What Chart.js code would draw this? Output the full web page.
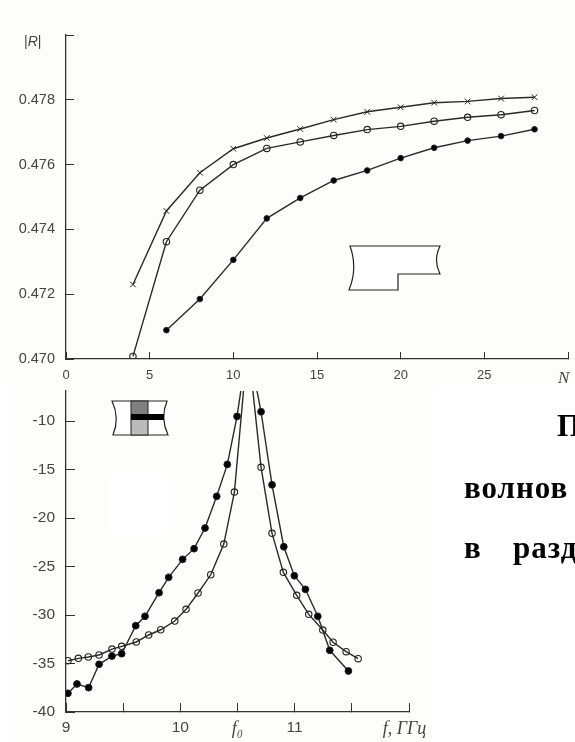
<!DOCTYPE html>
<html>
<head>
<meta charset="utf-8">
<style>
  html,body{margin:0;padding:0;background:#fff;width:575px;height:742px;overflow:hidden}
  .abs{position:absolute}
  #topWrap{left:0;top:0;width:575px;height:385px;background:#fdfdfb}
  #botWrap{left:10px;top:385px;width:424px;height:357px;background:#fdfdfb}
  #patch{left:108px;top:474px;width:62px;height:60px;background:#fff}
  canvas{position:absolute;display:block}
  #rLabel{left:24px;top:33px;font:14px 'Liberation Sans',sans-serif;color:#444}
  .para{position:absolute;font:bold 31px 'Liberation Serif',serif;color:#000;white-space:pre}
</style>
</head>
<body>
<div class="abs" id="topWrap"></div>
<div class="abs" id="botWrap"></div>
<div class="abs" id="patch"></div>
<canvas id="topChart" width="575" height="385" style="left:0;top:0"></canvas>
<canvas id="botChart" width="440" height="357" style="left:0;top:385px"></canvas>
<span class="abs" id="rLabel">|<i>R</i>|</span>
<svg class="abs" style="left:0;top:0" width="575" height="742" fill="none" stroke="#222">
  <path d="M350 246H440Q433 260 440 274H398V290H349Q358 268 350 246Z" fill="#fff" stroke-width="1.2"/>
  <path d="M112 401H167Q160 418 168 435H113Q120 418 112 401Z" fill="#fff" stroke-width="1.2"/>
  <rect x="131" y="401" width="17" height="16" fill="#808080" stroke-width="1"/>
  <rect x="131" y="417" width="17" height="18" fill="#bbb" stroke-width="1"/>
  <rect x="131" y="414" width="33" height="6" fill="#000" stroke="none"/>
</svg>
<div class="para" style="left:557px;top:408px">П</div>
<div class="para" style="left:464px;top:470px;letter-spacing:1px">волнов</div>
<div class="para" style="left:464px;top:530px">в</div>
<div class="para" style="left:513px;top:530px;letter-spacing:1px">разд</div>

<script src="https://cdn.jsdelivr.net/npm/chart.js@4"></script>
<script>
// top plot, |R| against N
const nCross = [4, 6, 8, 10, 12, 14, 16, 18, 20, 22, 24, 26, 28];
const rCross = [.4723, .47457, .47575, .47649, .47682, .4771, .47739, .47763, .47777, .47791, .47795, .47804, .47808];
const nOpen = [4, 6, 8, 10, 12, 14, 16, 18, 20, 22, 24, 26, 28];
const rOpen = [.47008, .47362, .47521, .476, .4765, .4767, .4769, .47708, .47718, .47734, .47746, .47754, .47767];
const nDot = [6, 8, 10, 12, 14, 16, 18, 20, 22, 24, 26, 28];
const rDot = [.47089, .47185, .47306, .47434, .47497, .47551, .47582, .4762, .47652, .47674, .47688, .47709];

// bottom plot, dB against f. the peak is cut off by the top of the axis
const fDot = [9.017, 9.096, 9.198, 9.289, 9.402, 9.487, 9.61, 9.691, 9.814, 9.898, 10.02, 10.12, 10.216, 10.318, 10.411, 10.496, 10.59, 10.706, 10.802, 10.905, 10.997, 11.094, 11.202, 11.307, 11.47];
const dbDot = [-38.07, -37.11, -37.49, -35.08, -34.23, -33.99, -31.1, -30.13, -27.7, -26.11, -24.26, -23.16, -21.03, -17.76, -14.47, -9.52, -2, -9.04, -16.57, -22.96, -25.95, -27.35, -30.13, -33.64, -35.77];
const fOpen = [9.017, 9.108, 9.195, 9.289, 9.402, 9.487, 9.615, 9.723, 9.829, 9.951, 10.05, 10.155, 10.266, 10.38, 10.473, 10.59, 10.706, 10.802, 10.901, 11.018, 11.123, 11.246, 11.336, 11.45, 11.555];
const dbOpen = [-34.71, -34.47, -34.33, -34.12, -33.51, -33.23, -32.78, -32.06, -31.52, -30.62, -29.41, -27.73, -25.85, -22.68, -17.32, -2, -14.77, -21.58, -25.6, -27.97, -29.93, -31.55, -32.81, -33.78, -34.5];

const botXValues = [9, 9.5, 10, 10.5, 11, 11.5, 12];
const botXLabels = ['9', '', '10', 'f₀', '11', '', 'f, ГГц  '];

const AXIS = '#333';
const LABEL = '#444';
const sans = size => ({family: "'Liberation Sans', Arial, sans-serif", size});
const serifItalic = size => ({family: "'Liberation Serif', serif", size, style: 'italic'});
const pts = (xs, ys) => xs.map((x, i) => ({x, y: ys[i]}));

// tick padding also widens the plot margins, so pin the box size and drop those
const pinSize = (prop, size) => s => {
  s[prop] = size;
  s.paddingLeft = s.paddingRight = s.paddingTop = s.paddingBottom = 0;
};

function series(data, style, yMax) {
  return {
    data,
    borderColor: '#2a2a2a',
    borderWidth: 1.4,
    tension: 0,
    pointStyle: style.shape,
    pointRadius: yMax === undefined ? style.r : ctx => (ctx.raw.y > yMax ? 0 : style.r),
    pointBorderColor: '#222',
    pointBorderWidth: style.bw,
    pointBackgroundColor: style.fill,
  };
}

const CROSS = {shape: 'crossRot', r: 4, bw: 1, fill: 'transparent'};
const RING = {shape: 'circle', r: 3.2, bw: 1.1, fill: 'transparent'};
const DOT = {shape: 'circle', r: 2.8, bw: 1, fill: '#000'};

new Chart(document.getElementById('topChart'), {
  type: 'line',
  data: {datasets: [
    series(pts(nCross, rCross), CROSS),
    series(pts(nOpen, rOpen), RING),
    series(pts(nDot, rDot), DOT),
  ]},
  options: {
    responsive: false, animation: false,
    layout: {padding: {top: 35, right: 7, left: 0, bottom: 0}},
    plugins: {legend: {display: false}, tooltip: {enabled: false}},
    scales: {
      x: {
        type: 'linear', min: 0, max: 30,
        afterFit: pinSize('height', 26),
        border: {color: AXIS, width: 1.3},
        grid: {drawOnChartArea: false, color: AXIS, tickLength: -7},
        ticks: {
          stepSize: 5, maxRotation: 0, color: LABEL, padding: 16,
          callback: v => (v === 30 ? 'N  ' : v),
          font: ctx => (ctx.tick && ctx.tick.value === 30 ? serifItalic(17) : sans(13)),
        },
      },
      y: {
        min: .47, max: .48,
        afterFit: pinSize('width', 66),
        border: {color: AXIS, width: 1.3},
        grid: {drawOnChartArea: false, color: AXIS, tickLength: -8},
        ticks: {
          stepSize: .002, color: LABEL, padding: 19, font: sans(14.5),
          callback: v => (v > .4795 ? '' : v.toFixed(3)),
        },
      },
    },
  },
});

const BOT_MAX = -6.9;

new Chart(document.getElementById('botChart'), {
  type: 'line',
  data: {datasets: [
    series(pts(fOpen, dbOpen), RING, BOT_MAX),
    series(pts(fDot, dbDot), {...DOT, r: 3.4}, BOT_MAX),
  ]},
  options: {
    responsive: false, animation: false,
    layout: {padding: {top: 6, right: 31, left: 0, bottom: 0}},
    plugins: {legend: {display: false}, tooltip: {enabled: false}},
    scales: {
      x: {
        type: 'linear', min: 9, max: 12,
        afterFit: pinSize('height', 30),
        afterBuildTicks: s => { s.ticks = botXValues.map(value => ({value})); },
        border: {color: AXIS, width: 1.3},
        grid: {drawOnChartArea: false, color: AXIS, tickLength: -9},
        ticks: {
          autoSkip: false, maxRotation: 0, color: LABEL, padding: 15,
          callback: (v, i) => botXLabels[i],
          font: ctx => (ctx.index === 3 || ctx.index === 6 ? serifItalic(18) : sans(15.5)),
        },
      },
      y: {
        min: -40, max: BOT_MAX,
        afterFit: pinSize('width', 66),
        border: {color: AXIS, width: 1.3},
        grid: {drawOnChartArea: false, color: AXIS, tickLength: -9},
        ticks: {stepSize: 5, includeBounds: false, color: LABEL, padding: 20, font: sans(15.5)},
      },
    },
  },
});
</script>
</body>
</html>
